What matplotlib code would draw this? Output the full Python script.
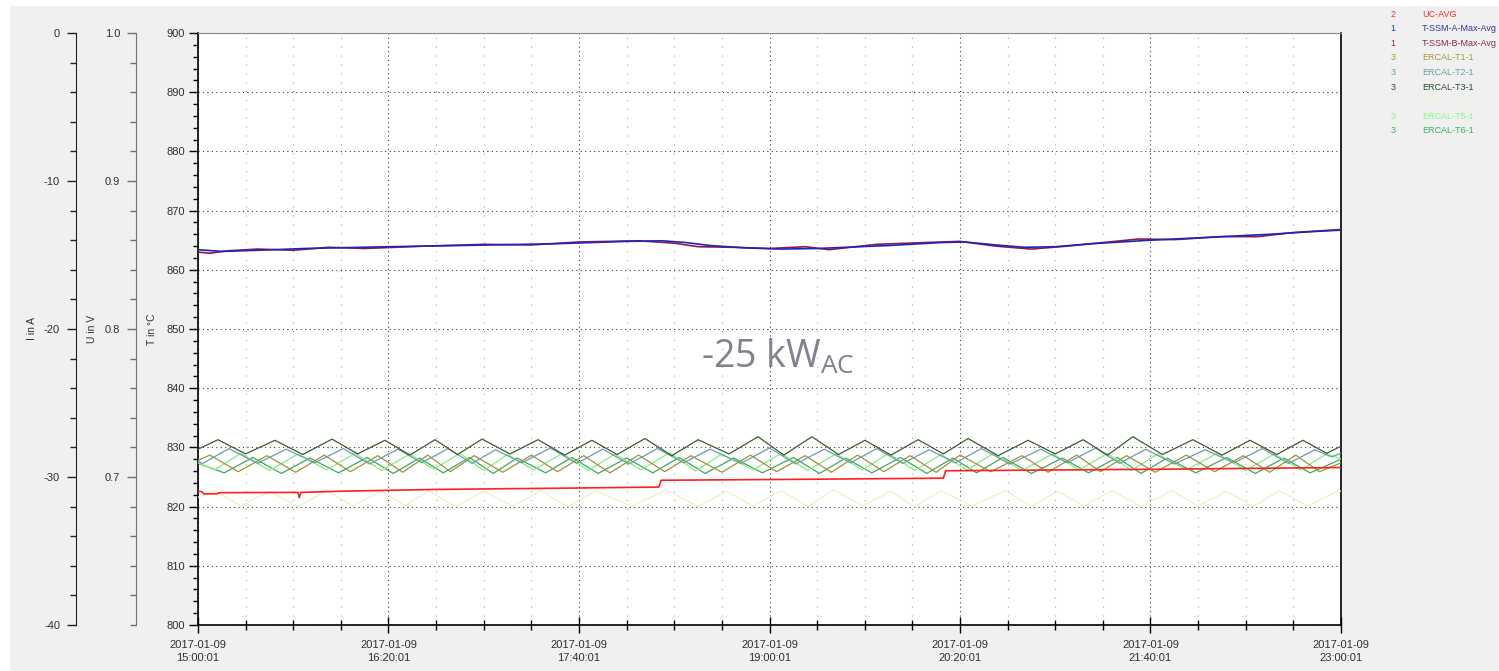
import numpy as np
import pandas as pd
import matplotlib
matplotlib.use('Agg')
import matplotlib.pyplot as plt
import matplotlib.dates as mdates
from matplotlib.patches import Rectangle
from matplotlib.ticker import MultipleLocator, FixedLocator

plt.rcParams['font.family'] = ['Liberation Sans', 'DejaVu Sans']
plt.rcParams['mathtext.fontset'] = 'custom'
plt.rcParams['mathtext.rm'] = 'Open Sans'
plt.rcParams['axes.unicode_minus'] = False

# time axis: minutes after 2017-01-09 15:00:01
start = pd.Timestamp('2017-01-09 15:00:01')
end = pd.Timestamp('2017-01-09 23:00:01')

# UC-AVG (red)
uc_min = [0, 1.5, 2.5, 8, 9, 42, 42.5, 43.2, 60, 100, 150, 193.5, 194.5, 250, 313, 314, 400, 480]
uc_val = [822.55, 822.55, 822.15, 822.15, 822.35, 822.4, 821.5, 822.4, 822.6, 822.9,
          823.1, 823.3, 824.45, 824.6, 824.8, 826.05, 826.3, 826.6]

# T-SSM-A-Max-Avg (blue)
ssm_a_min = [0, 10, 25, 45, 80, 110, 150, 180, 195, 205, 215, 230, 245, 260, 290, 312,
             322, 335, 347, 360, 375, 400, 420, 450, 470, 480]
ssm_a_val = [863.4, 863.1, 863.3, 863.6, 863.9, 864.1, 864.4, 864.8, 864.9, 864.6, 864.1,
             863.7, 863.5, 863.6, 864.1, 864.6, 864.7, 864.2, 863.8, 863.9, 864.4, 865.0,
             865.4, 866.0, 866.5, 866.7]

# T-SSM-B-Max-Avg (purple)
ssm_b_min = [0, 5, 12, 25, 40, 55, 70, 95, 120, 140, 160, 185, 200, 210, 225, 240, 255,
             265, 285, 305, 320, 335, 350, 365, 380, 395, 410, 430, 445, 460, 480]
ssm_b_val = [863.0, 862.8, 863.2, 863.5, 863.3, 863.8, 863.6, 864.0, 864.3, 864.2, 864.7,
             864.9, 864.5, 863.9, 863.8, 863.6, 863.9, 863.4, 864.3, 864.6, 864.8, 864.0,
             863.5, 864.0, 864.6, 865.2, 865.1, 865.6, 865.6, 866.3, 866.8]

# ERCAL-T1-1 (olive)
t1_min = [0, 5, 17, 29, 41, 53, 64, 75.5, 86, 96.5, 106, 116, 128, 140, 151, 162, 173, 185,
          196, 207, 220, 232, 243, 255, 266, 277, 288, 299, 310, 320, 333, 346, 357, 369,
          379, 390, 402, 415, 427, 439, 450, 461, 471, 480]
t1_val = [827.8, 828.7, 825.9, 828.6, 825.8, 828.7, 825.9, 828.6, 825.8, 828.7, 825.9, 828.6,
          825.8, 828.7, 825.9, 828.6, 825.7, 828.7, 825.9, 828.6, 825.8, 828.7, 825.9, 828.6,
          825.8, 828.7, 825.9, 828.6, 825.8, 828.7, 825.9, 828.6, 825.8, 828.7, 825.9, 828.6,
          825.8, 828.7, 825.9, 828.6, 825.8, 828.7, 825.9, 827.4]

# ERCAL-T2-1 (teal)
t2_min = [0, 2, 13, 25, 37, 49, 61, 72, 84, 94, 105, 115, 125, 136, 148, 159, 170, 181, 193,
          204, 215, 228, 240, 251, 263, 274, 285, 296, 307, 318, 329, 341, 354, 365, 377, 387,
          398, 410, 423, 435, 447, 458, 469, 476, 480]
t2_val = [827.6, 827.3, 829.8, 827.3, 829.7, 827.4, 829.8, 827.2, 829.7, 827.4, 829.8, 827.3,
          829.6, 827.4, 829.9, 827.3, 829.7, 827.2, 829.8, 827.4, 829.7, 827.3, 829.9, 827.2,
          829.7, 827.4, 829.8, 827.3, 829.6, 827.4, 829.8, 827.2, 829.7, 827.4, 829.9, 827.3,
          829.7, 827.2, 829.6, 827.4, 829.8, 827.3, 829.6, 828.4, 829.0]

# ERCAL-T3-1 (dark green)
t3_min = [0, 8.4, 20, 32.3, 44, 56.3, 67, 78.5, 89, 99.5, 109, 119.3, 131, 142.8, 154, 165.4,
          176, 187.7, 199, 210, 223, 235.2, 246, 257.8, 269, 280.1, 291, 302.4, 313, 323.4,
          336, 348.6, 360, 371.7, 382, 392.6, 405, 417.8, 430, 441.8, 453, 464, 474, 480]
t3_val = [829.7, 831.3, 828.9, 831.2, 828.8, 831.4, 828.9, 831.2, 828.7, 831.3, 828.8, 831.4,
          828.9, 831.3, 828.7, 831.2, 828.8, 831.5, 828.6, 831.3, 828.9, 831.8, 828.7, 831.8,
          828.8, 831.2, 828.7, 831.3, 828.9, 831.5, 828.6, 831.2, 828.9, 831.3, 828.7, 831.8,
          828.8, 831.3, 828.7, 831.2, 828.8, 831.2, 829.0, 830.2]

# ERCAL-T4-1 (pale yellow)
t4_min = [0, 7, 18, 30, 42, 54, 65, 77, 87, 97, 108, 120, 132, 144, 155, 167, 182, 197, 210,
          222, 233, 245, 256, 267, 279, 291, 301, 312, 325, 339, 350, 361, 372, 384, 396, 409,
          420, 432, 443, 454, 466, 479, 480]
t4_val = [821.6, 822.7, 820.1, 822.6, 820.0, 822.7, 820.1, 822.6, 820.2, 822.7, 820.0, 822.6,
          820.1, 822.7, 820.0, 822.6, 820.1, 822.8, 820.0, 822.6, 820.1, 822.7, 820.0, 822.8,
          820.1, 822.6, 820.0, 822.7, 820.1, 822.7, 820.0, 822.6, 820.1, 822.7, 820.0, 822.7,
          820.1, 822.6, 820.0, 822.7, 820.1, 822.7, 822.6]

# ERCAL-T5-1 (light green)
t5_min = [0, 7, 18, 30, 42, 54, 66, 77, 89, 99, 110, 120, 130, 141, 153, 164, 175, 186, 198,
          209, 220, 233, 245, 256, 268, 279, 290, 301, 312, 323, 334, 346, 359, 370, 382, 392,
          403, 415, 428, 440, 452, 463, 474, 480]
t5_val = [827.4, 826.2, 829.0, 826.1, 828.9, 826.2, 829.0, 826.1, 828.9, 826.3, 829.0, 826.1,
          828.8, 826.2, 829.0, 826.1, 828.9, 826.2, 829.1, 826.0, 828.9, 826.2, 829.0, 826.1,
          828.9, 826.2, 829.0, 826.1, 828.8, 826.2, 829.0, 826.1, 828.9, 826.2, 829.0, 826.1,
          828.9, 826.2, 829.0, 826.1, 828.9, 826.2, 828.9, 828.0]

# ERCAL-T6-1 (green)
t6_min = [0, 11, 23, 35, 47, 59, 71, 82, 93, 103, 114, 124, 134, 146, 157, 168, 180, 191, 202,
          213, 225, 237, 250, 261, 272, 283, 295, 306, 317, 327, 338, 350, 363, 374, 386, 396,
          407, 419, 432, 444, 456, 467, 480]
t6_val = [827.3, 825.7, 828.3, 825.6, 828.2, 825.7, 828.3, 825.6, 828.2, 825.7, 828.3, 825.6,
          828.2, 825.7, 828.3, 825.6, 828.2, 825.7, 828.3, 825.6, 828.2, 825.7, 828.3, 825.6,
          828.2, 825.7, 828.3, 825.6, 828.2, 825.7, 828.3, 825.6, 828.2, 825.7, 828.3, 825.6,
          828.2, 825.7, 828.3, 825.6, 828.2, 825.7, 828.0]

legend_rows = [('2', 'UC-AVG', '#ff2a2a'),
               ('1', 'T-SSM-A-Max-Avg', '#34349c'),
               ('1', 'T-SSM-B-Max-Avg', '#8a2a4c'),
               ('3', 'ERCAL-T1-1', '#a09a3c'),
               ('3', 'ERCAL-T2-1', '#6a9ca2'),
               ('3', 'ERCAL-T3-1', '#2e4a2e'),
               ('3', 'ERCAL-T4-1', '#f2f2dc'),
               ('3', 'ERCAL-T5-1', '#88f888'),
               ('3', 'ERCAL-T6-1', '#3cb060')]


def tt(mins):
    return (start + pd.to_timedelta(np.array(mins), unit='min')).to_numpy()


W, H = 1499, 671
fig = plt.figure(figsize=(W / 100, H / 100), dpi=100, facecolor='white')
fig.patches.append(Rectangle((10 / W, 0), 1 - 10 / W, 1 - 6 / H, transform=fig.transFigure,
                             facecolor='#f0f0f0', edgecolor='none', zorder=-10))

rect = [198 / W, 1 - 625 / H, 1143 / W, 592 / H]
ax = fig.add_axes(rect, facecolor='white')

# lines
ax.plot(tt(t4_min), t4_val, color='#f0f0c8', lw=0.9, zorder=3)
ax.plot(tt(t6_min), t6_val, color='#3caa5c', lw=0.9, zorder=3)
ax.plot(tt(t5_min), t5_val, color='#80f080', lw=0.9, zorder=3)
ax.plot(tt(t1_min), t1_val, color='#9c9438', lw=0.9, zorder=3)
ax.plot(tt(t2_min), t2_val, color='#6a9ea8', lw=0.9, zorder=3)
ax.plot(tt(t3_min), t3_val, color='#3d5c2e', lw=0.9, zorder=3)
ax.plot(tt(uc_min), uc_val, color='#ff2020', lw=1.2, zorder=4)
ax.plot(tt(ssm_b_min), ssm_b_val, color='#8c1a4f', lw=1.2, zorder=4)
ax.plot(tt(ssm_a_min), ssm_a_val, color='#2424b4', lw=1.2, zorder=4)

ax.set_xlim(start.to_datetime64(), end.to_datetime64())
ax.set_ylim(800, 900)

major_t = pd.date_range(start, end, freq='80min').to_numpy()
minor_t = pd.date_range(start, end, freq='20min').to_numpy()
ax.xaxis.set_major_locator(FixedLocator(mdates.date2num(major_t)))
ax.xaxis.set_minor_locator(FixedLocator(mdates.date2num(minor_t)))
ax.xaxis.set_major_formatter(mdates.DateFormatter('%Y-%m-%d\n%H:%M:%S'))
ax.yaxis.set_major_locator(MultipleLocator(10))
ax.yaxis.set_minor_locator(MultipleLocator(2))

ax.tick_params(axis='x', which='major', direction='inout', length=12, width=1,
               labelsize=8, labelcolor='#303030', pad=5)
ax.tick_params(axis='x', which='minor', direction='inout', length=7, width=1)
ax.tick_params(axis='y', which='major', direction='out', length=6.5, width=1,
               labelsize=8, labelcolor='#303030', pad=3)
ax.tick_params(axis='y', which='minor', direction='out', length=3.5, width=1)
for lab in ax.get_xticklabels():
    lab.set_linespacing(1.3)

ax.set_axisbelow(True)
ax.xaxis.grid(True, which='major', color='#404040', linestyle=(0, (1, 3)), lw=0.8)
ax.xaxis.grid(True, which='minor', color='#a8a8a8', linestyle=(0, (1, 7)), lw=0.8)
ax.yaxis.grid(True, which='major', color='#404040', linestyle=(0, (1, 3)), lw=0.8)

for s in ['left', 'bottom', 'right']:
    ax.spines[s].set_color('black')
    ax.spines[s].set_linewidth(1.2)
ax.spines['top'].set_color('#8a8a8a')


def side_axis(xpos, lo, hi, major, minor, spine_color):
    a = fig.add_axes(rect)
    a.patch.set_visible(False)
    a.set_ylim(lo, hi)
    for s in ['top', 'right', 'bottom']:
        a.spines[s].set_visible(False)
    a.spines['left'].set_position(('axes', (xpos - 198) / 1143))
    a.spines['left'].set_color(spine_color)
    a.xaxis.set_visible(False)
    a.yaxis.set_major_locator(FixedLocator(major))
    a.yaxis.set_minor_locator(MultipleLocator(minor))
    a.tick_params(axis='y', which='major', direction='out', length=6.5, width=1,
                  labelsize=8, labelcolor='#303030', pad=5, color=spine_color)
    a.tick_params(axis='y', which='minor', direction='out', length=4, width=1,
                  color=spine_color)
    return a


ax_u = side_axis(136, 0.6, 1.0, [0.7, 0.8, 0.9, 1.0], 0.02, '#707070')
ax_u.yaxis.set_major_formatter(matplotlib.ticker.FormatStrFormatter('%.1f'))
ax_i = side_axis(76, -40, 0, [-40, -30, -20, -10, 0], 2, '#202020')

fig.text(32 / W, 1 - 329 / H, 'I in A', rotation=90, ha='center', va='center',
         fontsize=7.5, color='#303030')
fig.text(92 / W, 1 - 329 / H, 'U in V', rotation=90, ha='center', va='center',
         fontsize=7.5, color='#303030')
fig.text(152 / W, 1 - 329 / H, 'T in °C', rotation=90, ha='center', va='center',
         fontsize=7.5, color='#303030')

ax.text(0.507, (625 - 368) / 592, r'-25 kW$_{\mathrm{AC}}$', transform=ax.transAxes,
        ha='center', va='baseline', fontsize=27, color='#85808e',
        family='Open Sans', zorder=6)

# legend block at top right
for i, (num, name, col) in enumerate(legend_rows):
    y = 1 - (14.3 + i * 14.55) / H
    fig.text(1392.7 / W, y, num, color=col, ha='center', va='center', fontsize=6.5)
    fig.text(1422 / W, y, name, color=col, ha='left', va='center', fontsize=6.5)

fig.savefig('out.png', dpi=100, facecolor=fig.get_facecolor())
